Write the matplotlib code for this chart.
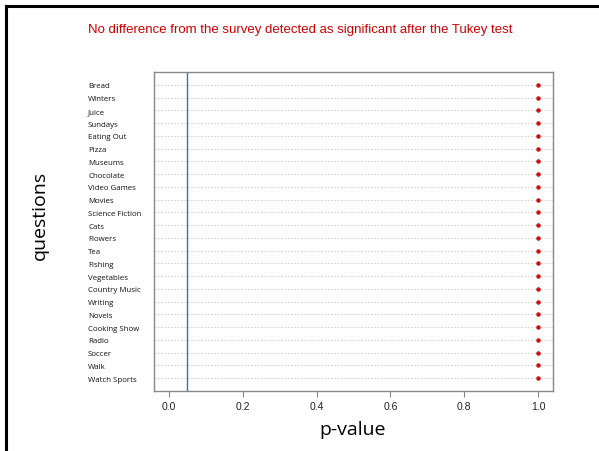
import matplotlib.pyplot as plt
from matplotlib.lines import Line2D

# questions, top to bottom, and their adjusted p-values
questions = ['Bread', 'Winters', 'Juice', 'Sundays', 'Eating Out', 'Pizza',
             'Museums', 'Chocolate', 'Video Games', 'Movies', 'Science Fiction',
             'Cats', 'Flowers', 'Tea', 'Fishing', 'Vegetables', 'Country Music',
             'Writing', 'Novels', 'Cooking Show', 'Radio', 'Soccer', 'Walk',
             'Watch Sports']
pvalues = [1.0] * len(questions)
alpha = 0.05
xticks = [0.0, 0.2, 0.4, 0.6, 0.8, 1.0]

fig = plt.figure(figsize=(5.99, 4.52), dpi=100)
ax = fig.add_axes([154/599, 1-392/452, (553-154)/599, (392-73)/452])

n = len(questions)
ypos = list(range(n, 0, -1))

# dotted guide lines for each question
for y in ypos:
    ax.axhline(y, color='#cccccc', linestyle=(0, (2, 2)), linewidth=0.6, zorder=1)

ax.axvline(alpha, color='#4a5fe0', linewidth=1.0, zorder=2)
ax.scatter(pvalues, ypos, s=5, color='#cc1111', zorder=3)

ax.set_xlim(-0.04, 1.04)
ax.set_ylim(0, n + 1)
ax.set_xticks(xticks)
ax.set_xticklabels(['%.1f' % t for t in xticks], fontsize=7.5,
                   fontfamily='Liberation Sans', color='#222222')
ax.tick_params(axis='x', colors='#888888', labelcolor='#222222', length=4, width=0.8)
ax.set_yticks(ypos)
ax.set_yticklabels(questions, fontsize=5.7, fontfamily='Open Sans', color='#111111',
                   ha='left', fontweight='medium')
ax.tick_params(axis='y', length=0, pad=47.5)
for s in ax.spines.values():
    s.set_color('#888888')
    s.set_linewidth(1.0)

fig.text(353/599, 1-430/452, 'p-value', fontsize=14, fontfamily='Open Sans',
         ha='center', va='center')
fig.text(40/599, 1-215/452, 'questions', fontsize=14, fontfamily='Open Sans',
         ha='center', va='center', rotation=90)
fig.text(300/599, 1-30/452,
         'No difference from the survey detected as significant after the Tukey test',
         fontsize=9.5, fontfamily='Liberation Sans', color='#cc0000',
         ha='center', va='center')

# black frame on the left and top of the slide
fig.add_artist(Line2D([6/599, 6/599], [0, 1-7/452], color='black', linewidth=2.2,
                      transform=fig.transFigure))
fig.add_artist(Line2D([6/599, 1], [1-7/452, 1-7/452], color='black', linewidth=2.2,
                      transform=fig.transFigure))

fig.savefig('out.png', dpi=100)
